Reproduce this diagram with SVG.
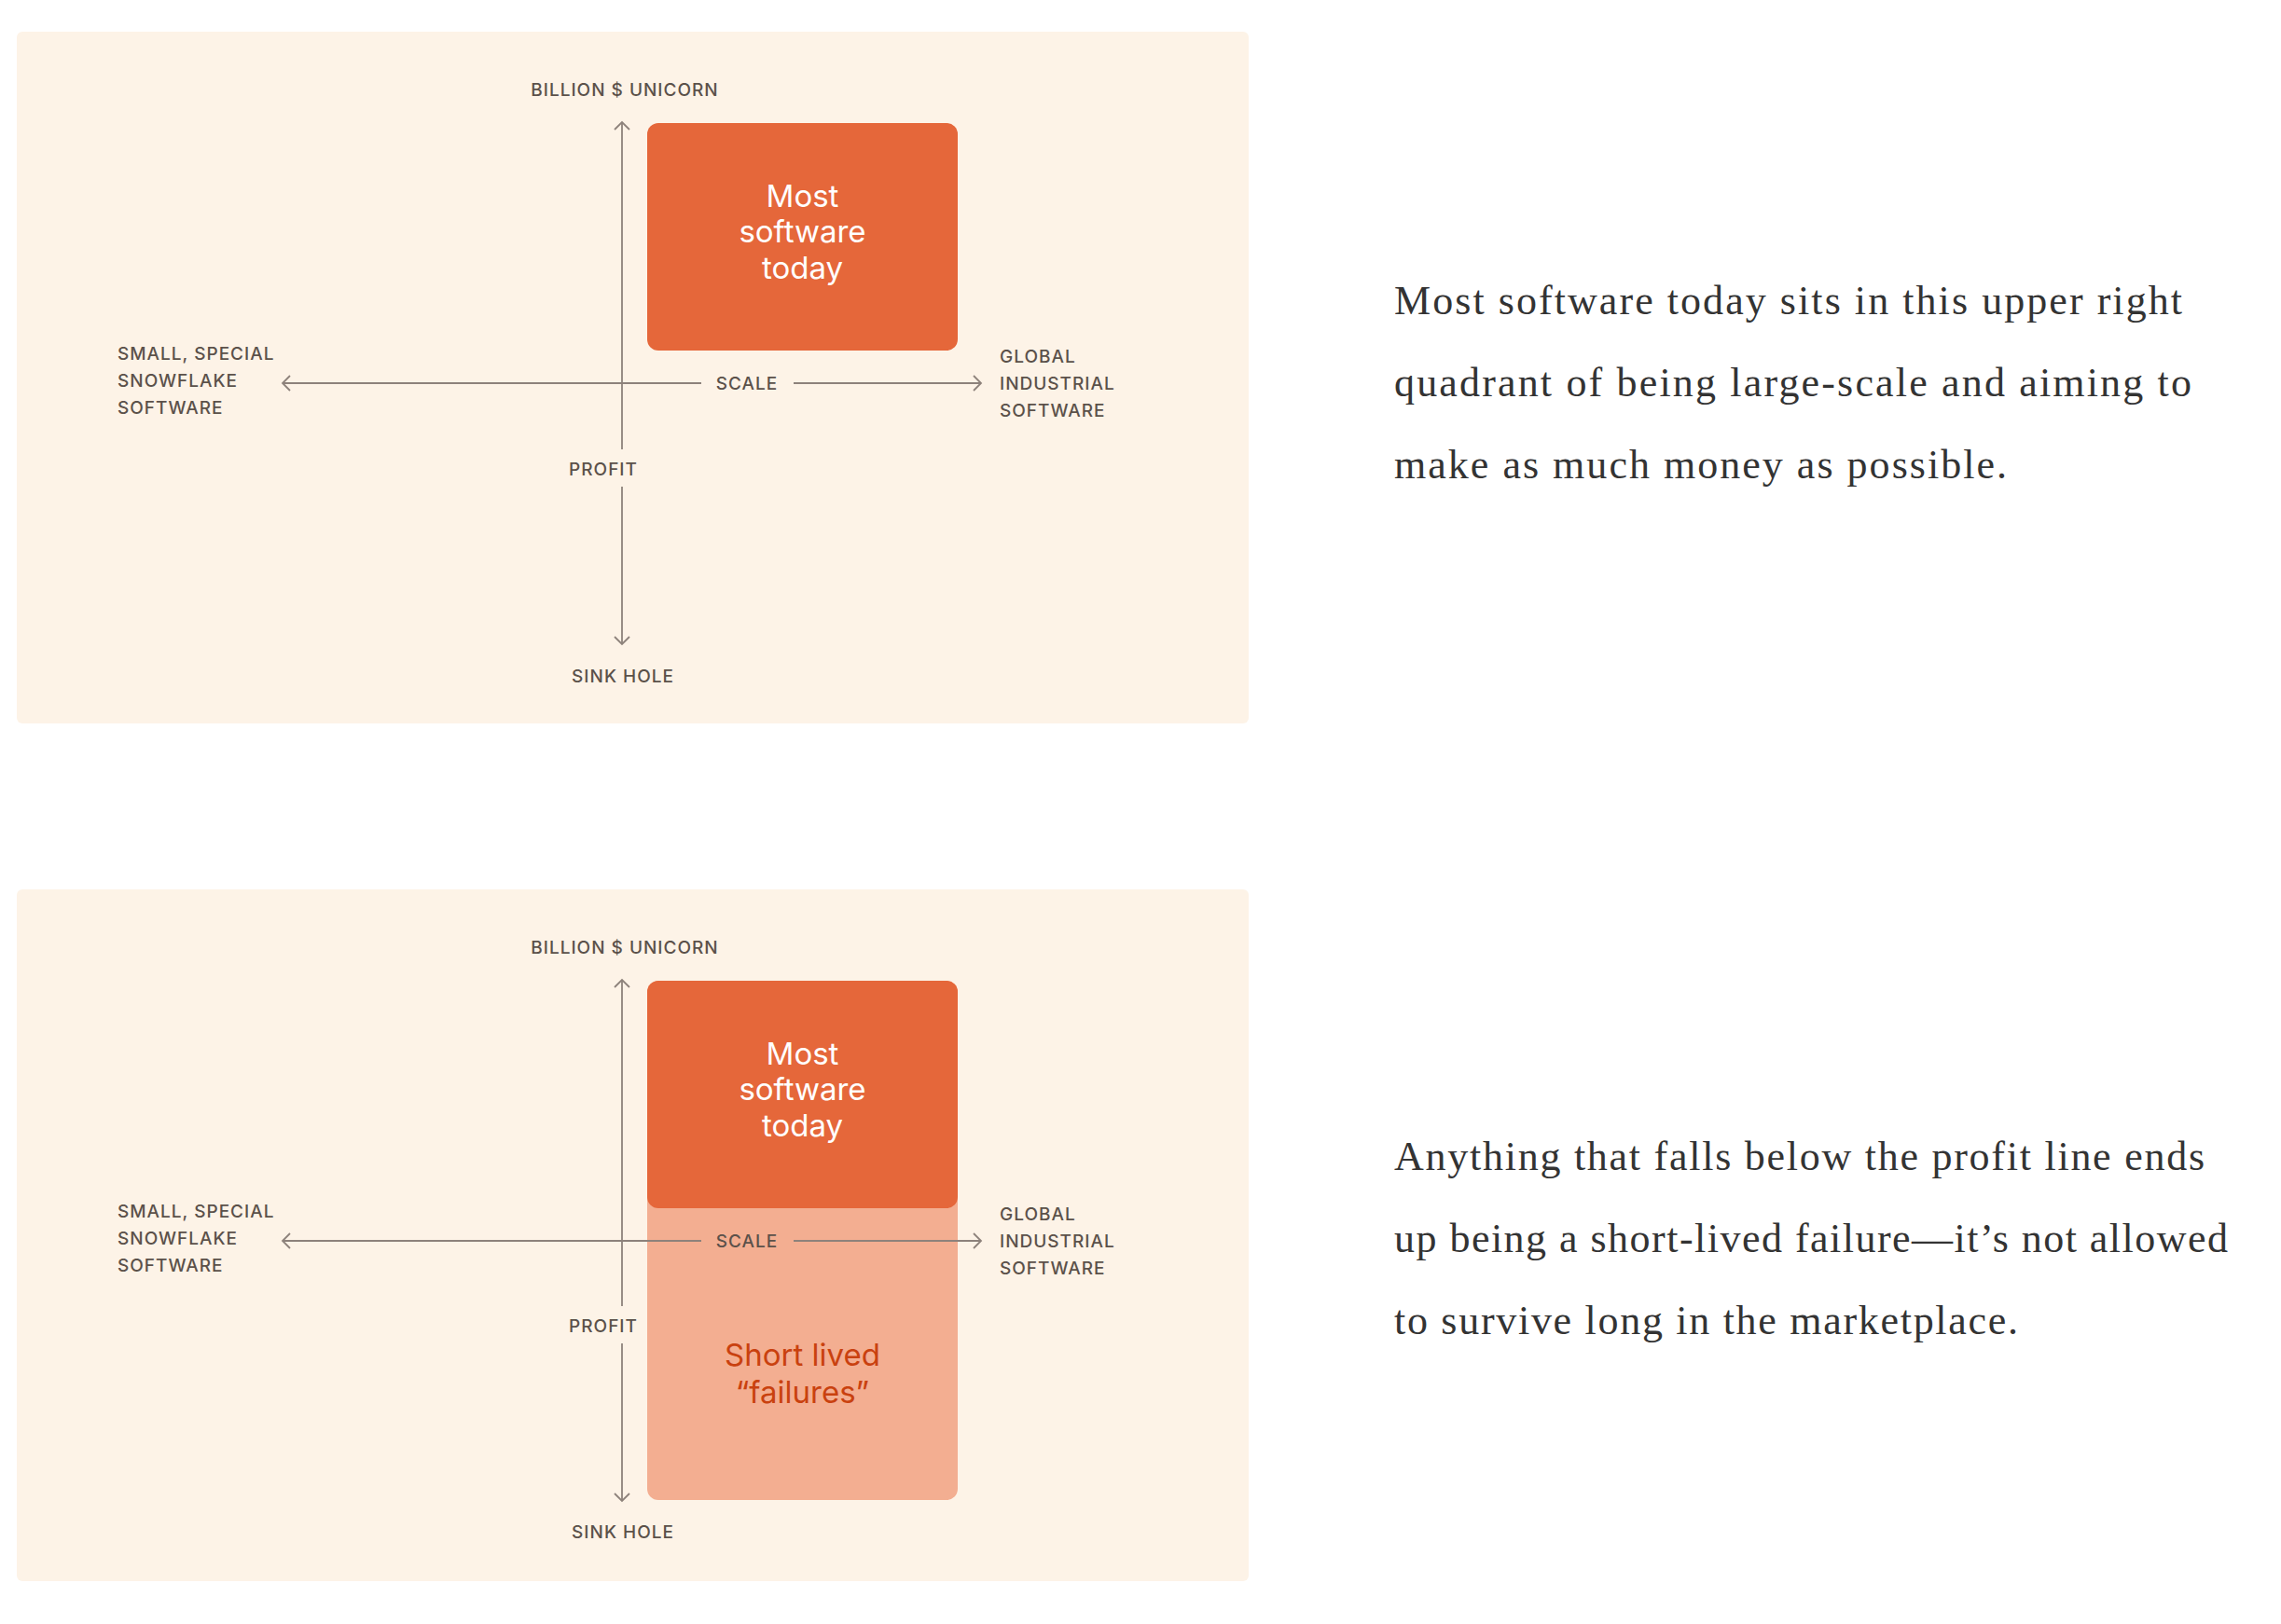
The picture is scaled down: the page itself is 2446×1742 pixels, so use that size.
<svg xmlns="http://www.w3.org/2000/svg" width="2446" height="1742" viewBox="0 0 2446 1742">
<style>
.panel{fill:#fdf3e7}
.lbl{font-family:Inter,"Liberation Sans",sans-serif;font-size:19px;letter-spacing:1px;fill:#5b514a;font-weight:500}
.mid{text-anchor:middle}
.box{fill:#e5673a}
.lightbox{fill:#f3ae91}
.boxtxt{font-family:Inter,"Liberation Sans",sans-serif;font-size:33px;fill:#ffffff;text-anchor:middle}
.failtxt{font-family:Inter,"Liberation Sans",sans-serif;font-size:33px;fill:#c9410f;text-anchor:middle}
.axis{stroke:#8d827b;stroke-width:1.8;fill:none;marker-end:url(#chev)}
.para{font-family:"Liberation Serif",serif;font-size:44px;fill:#333333}
</style>
<defs>
<marker id="chev" viewBox="-10 -10 20 20" refX="0" refY="0" markerWidth="20" markerHeight="20" markerUnits="userSpaceOnUse" orient="auto">
<path d="M-8,-8 L0,0 L-8,8" fill="none" stroke="#8d827b" stroke-width="1.8"/>
</marker>
</defs>
<rect width="2446" height="1742" fill="#ffffff"/>

<!-- Chart 1 -->
<g id="chart1">
<rect id="panel1" class="panel" x="18" y="34" width="1321" height="742" rx="6"/>
<g id="c1-box"><rect class="box" x="694" y="132" width="333" height="244" rx="12"/>
<text class="boxtxt" x="860.5" y="222">Most</text>
<text class="boxtxt" x="860.5" y="260">software</text>
<text class="boxtxt" x="860.5" y="299">today</text></g>
<g id="c1-top"><text class="lbl mid" x="670" y="103">BILLION $ UNICORN</text></g>
<g id="c1-left"><text class="lbl" x="126" y="386">SMALL, SPECIAL</text><text class="lbl" x="126" y="415">SNOWFLAKE</text><text class="lbl" x="126" y="444">SOFTWARE</text></g>
<g id="c1-right"><text class="lbl" x="1072" y="389">GLOBAL</text><text class="lbl" x="1072" y="418">INDUSTRIAL</text><text class="lbl" x="1072" y="447">SOFTWARE</text></g>
<g id="c1-scale"><text class="lbl mid" x="801" y="418">SCALE</text></g>
<g id="c1-profit"><text class="lbl mid" x="647" y="510">PROFIT</text></g>
<g id="c1-sink"><text class="lbl mid" x="668" y="732">SINK HOLE</text></g>
<g id="c1-connectors">
<line class="axis" x1="667" y1="482" x2="667" y2="131"/>
<line class="axis" x1="667" y1="522" x2="667" y2="691"/>
<line class="axis" x1="752" y1="411" x2="303" y2="411"/>
<line class="axis" x1="851" y1="411" x2="1052" y2="411"/>
</g>
</g>

<!-- Chart 2 -->
<g id="chart2">
<rect id="panel2" class="panel" x="18" y="954" width="1321" height="742" rx="6"/>
<g id="c2-failbox"><rect class="lightbox" x="694" y="1052" width="333" height="557" rx="12"/>
<text class="failtxt" x="860.5" y="1465">Short lived</text>
<text class="failtxt" x="860.5" y="1505">“failures”</text></g>
<g id="c2-box"><rect class="box" x="694" y="1052" width="333" height="244" rx="12"/>
<text class="boxtxt" x="860.5" y="1142">Most</text>
<text class="boxtxt" x="860.5" y="1180">software</text>
<text class="boxtxt" x="860.5" y="1219">today</text></g>
<g id="c2-top"><text class="lbl mid" x="670" y="1023">BILLION $ UNICORN</text></g>
<g id="c2-left"><text class="lbl" x="126" y="1306">SMALL, SPECIAL</text><text class="lbl" x="126" y="1335">SNOWFLAKE</text><text class="lbl" x="126" y="1364">SOFTWARE</text></g>
<g id="c2-right"><text class="lbl" x="1072" y="1309">GLOBAL</text><text class="lbl" x="1072" y="1338">INDUSTRIAL</text><text class="lbl" x="1072" y="1367">SOFTWARE</text></g>
<g id="c2-scale"><text class="lbl mid" x="801" y="1338">SCALE</text></g>
<g id="c2-profit"><text class="lbl mid" x="647" y="1429">PROFIT</text></g>
<g id="c2-sink"><text class="lbl mid" x="668" y="1650">SINK HOLE</text></g>
<g id="c2-connectors">
<line class="axis" x1="667" y1="1401" x2="667" y2="1051"/>
<line class="axis" x1="667" y1="1441" x2="667" y2="1610"/>
<line class="axis" x1="752" y1="1331" x2="303" y2="1331"/>
<line class="axis" x1="851" y1="1331" x2="1052" y2="1331"/>
</g>
</g>

<!-- Paragraphs -->
<g id="para1">
<text class="para" x="1495" y="337" textLength="845" lengthAdjust="spacing">Most software today sits in this upper right</text>
<text class="para" x="1495" y="425" textLength="855" lengthAdjust="spacing">quadrant of being large-scale and aiming to</text>
<text class="para" x="1495" y="513" textLength="657" lengthAdjust="spacing">make as much money as possible.</text>
</g>
<g id="para2">
<text class="para" x="1495" y="1255" textLength="869" lengthAdjust="spacing">Anything that falls below the profit line ends</text>
<text class="para" x="1495" y="1343" textLength="894" lengthAdjust="spacing">up being a short-lived failure—it’s not allowed</text>
<text class="para" x="1495" y="1431" textLength="669" lengthAdjust="spacing">to survive long in the marketplace.</text>
</g>
</svg>
